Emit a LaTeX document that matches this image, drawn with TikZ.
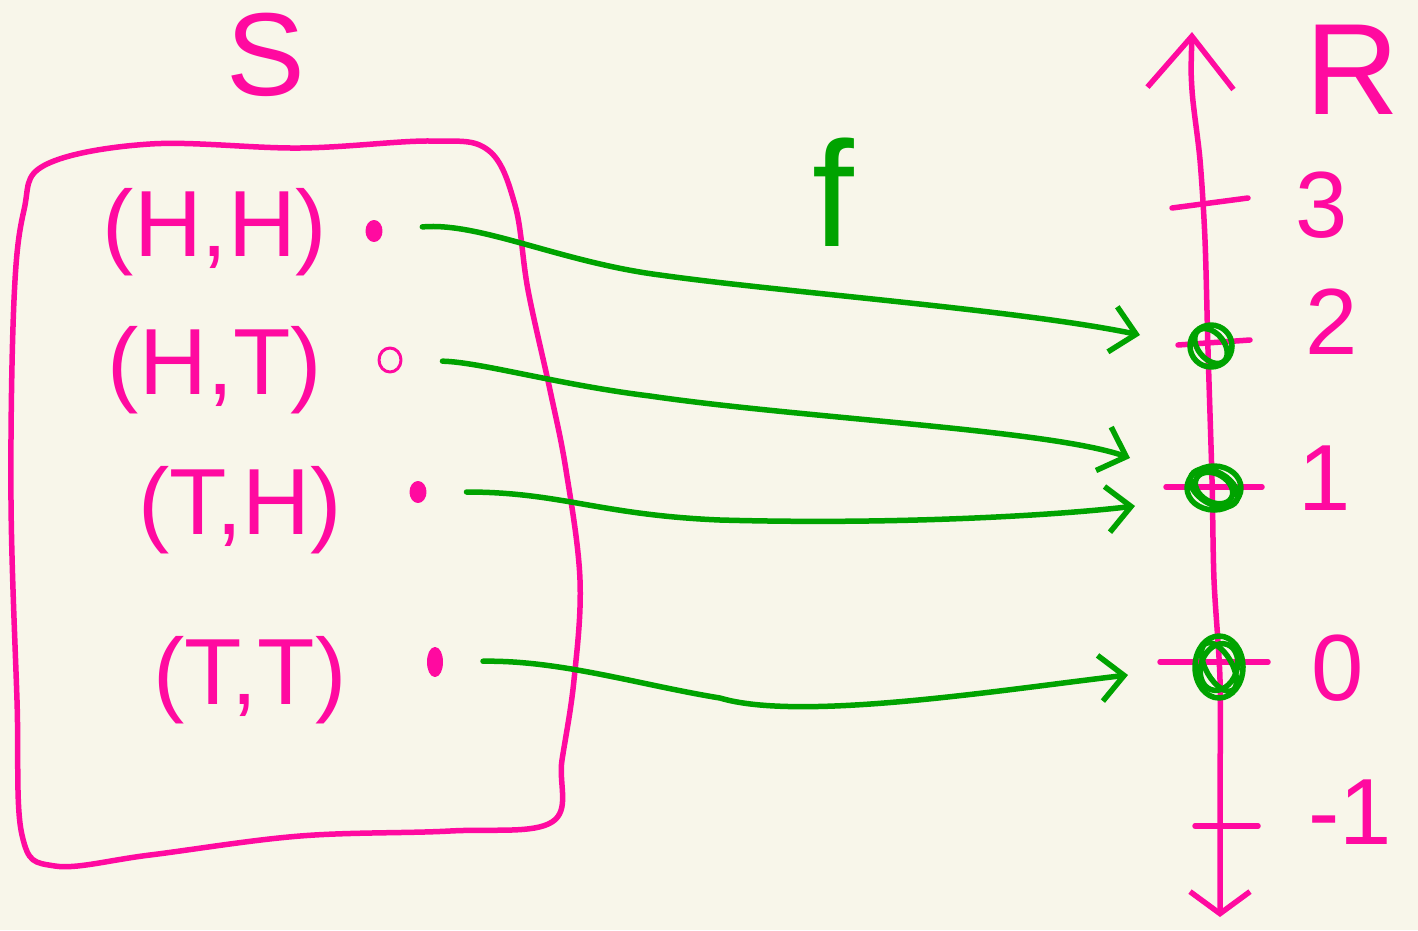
\documentclass[tikz,border=0pt]{standalone}
\usepackage{fontspec}
\setmainfont{Liberation Sans}
\usetikzlibrary{arrows.meta,shapes.geometric}
\definecolor{bg}{HTML}{F8F6EA}
\definecolor{pk}{HTML}{FF0AA0}
\definecolor{gr}{HTML}{00A300}
\begin{document}
\begin{tikzpicture}[x=1pt,y=-1pt,line cap=round,line join=round,
  pen/.style={draw=pk,line width=5.5pt},
  gpen/.style={draw=gr,line width=5.5pt},
  lab/.style={text=pk,inner sep=0pt,font=\fontsize{94}{100}\selectfont},
  dotn/.style={ellipse,fill=pk,draw=pk,line width=3pt,inner sep=0pt,minimum width=14pt,minimum height=19pt},
  hit/.style={circle,draw=gr,line width=5.5pt,inner sep=0pt,minimum size=42pt},
  maparrow/.style={gpen,-{Straight Barb[length=24pt,width=46pt]},shorten <=40pt}]
\fill[bg] (0,0) rectangle (1418,930);
\useasboundingbox (0,0) rectangle (1418,930);

% set S
\node[lab,font=\fontsize{118}{120}\selectfont] (S) at (266,55) {S};
\draw[pen] plot[smooth cycle,tension=0.6] coordinates {
 (45,165) (150,144) (300,148) (430,141) (488,150) (515,205) (528,290)
 (550,390) (566,470) (580,580) (574,680) (562,760) (552,822) (450,831)
 (300,836) (150,855) (55,866) (22,835) (17,700) (11,500) (14,300) (24,210)};

% outcomes
\node[lab] (hh) at (215,232) {(H,H)};
\node[lab] (ht) at (215,370) {(H,T)};
\node[lab] (th) at (240,510) {(T,H)};
\node[lab] (tt) at (250,680) {(T,T)};

\node[dotn] (d1) at (374,231) {};
\node[dotn,fill=none,minimum width=22pt,minimum height=24pt] (d2) at (390,360) {};
\node[dotn] (d3) at (418,492) {};
\node[dotn,minimum width=13pt,minimum height=27pt] (d4) at (435,662) {};

% function name
\node[text=gr,inner sep=0pt,font=\fontsize{150}{150}\selectfont] (f) at (833,192) {f};

% real line
\coordinate (top) at (1192,32);
\coordinate (bot) at (1220,917);
\draw[pen,{Straight Barb[length=52pt,width=86pt]}-{Straight Barb[length=22pt,width=60pt]}]
  plot[smooth] coordinates {(top) (1192,90) (1200,160) (1205,240) (1208,350) (1212,480) (1214,580) (1220,680) (1220,800) (bot)};
\node[lab,font=\fontsize{130}{135}\selectfont] (R) at (1352,70) {R};

% ticks
\coordinate (t3a) at (1172,208); \coordinate (t3b) at (1248,198);
\coordinate (t2a) at (1178,345); \coordinate (t2b) at (1250,340);
\coordinate (t1a) at (1166,487); \coordinate (t1b) at (1262,487);
\coordinate (t0a) at (1160,662); \coordinate (t0b) at (1268,662);
\coordinate (tma) at (1195,826); \coordinate (tmb) at (1258,826);
\draw[pen] (t3a) -- (t3b);
\draw[pen] (t2a) -- (t2b);
\draw[pen] (t1a) -- (t1b);
\draw[pen] (t0a) -- (t0b);
\draw[pen] (tma) -- (tmb);

\node[lab] (n3) at (1322,205) {3};
\node[lab] (n2) at (1332,322) {2};
\node[lab] (n1) at (1325,478) {1};
\node[lab] (n0) at (1338,668) {0};
\node[lab] (nm) at (1350,812) {-1};

% images
\node[hit] (c2) at (1211,346) {};
\draw[gpen,rotate around={40:(c2)}] (c2) ellipse (13pt and 20pt);
\node[hit,ellipse,minimum width=54pt,minimum height=44pt] (c1) at (1214,488) {};
\draw[gpen,rotate around={-30:(c1)}] (c1) ellipse (26pt and 16pt);
\draw[gpen,rotate around={60:(c1)}] (c1) ellipse (14pt and 20pt);
\node[hit,minimum width=48pt,minimum height=62pt,ellipse] (c0) at (1219,667) {};
\draw[gpen,rotate around={30:(c0)}] (c0) ellipse (13pt and 27pt);
\draw[gpen,rotate around={-20:(c0)}] (c0) ellipse (18pt and 24pt);

% mapping arrows
\coordinate (e1) at (1140,335);
\coordinate (e2) at (1130,458);
\coordinate (e3) at (1135,506);
\coordinate (e4) at (1128,675);
\draw[maparrow] (d1) .. controls (480,222) and (560,262) .. (660,275) .. controls (780,292) and (1020,310) .. (e1);
\draw[maparrow] (d2) .. controls (480,362) and (560,385) .. (650,396) .. controls (800,418) and (1050,430) .. (e2);
\draw[maparrow] (d3) .. controls (560,492) and (600,515) .. (720,520) .. controls (900,525) and (1060,515) .. (e3);
\draw[maparrow] (d4) .. controls (560,660) and (640,685) .. (720,698) .. controls (800,722) and (1000,690) .. (e4);
\end{tikzpicture}
\end{document}
